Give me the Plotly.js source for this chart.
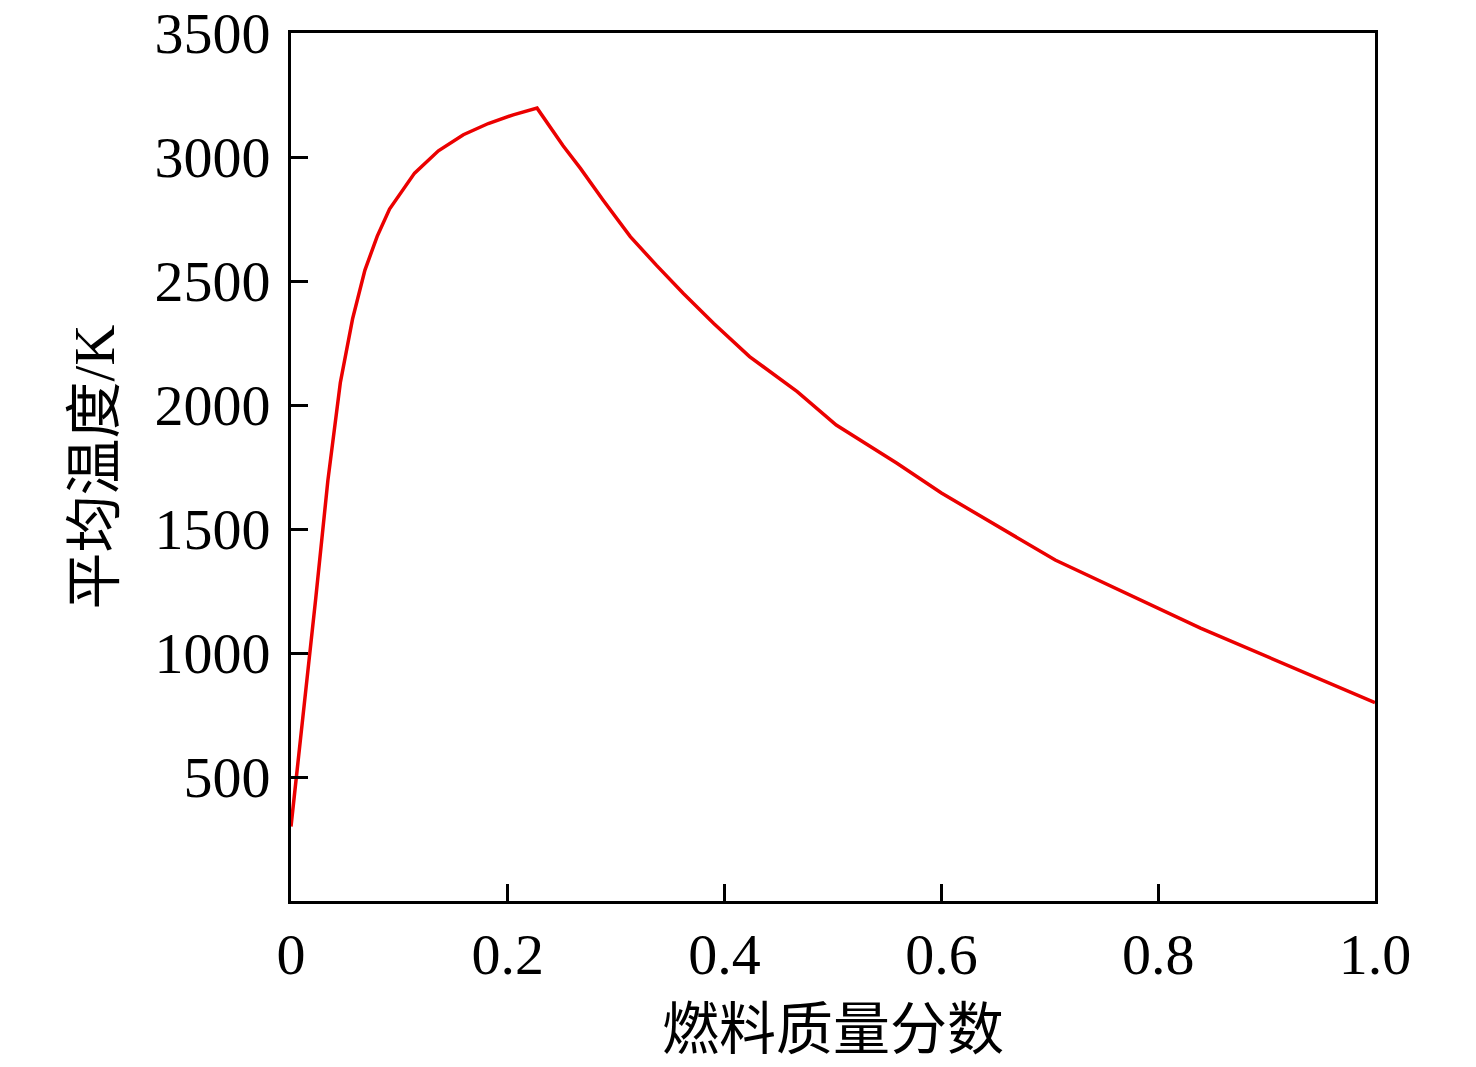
<!DOCTYPE html>
<html>
<head>
<meta charset="utf-8">
<script src="https://cdn.plot.ly/plotly-3.0.1.min.js"></script>
<style>
  html, body { margin: 0; padding: 0; background: #fff; }
  #chart { width: 1476px; height: 1067px; }
</style>
</head>
<body>
<div id="chart"></div>
<script>
// fuel mass fraction vs mean temperature
let fuelFraction = [0, 0.0114, 0.0227, 0.034, 0.0455, 0.0568, 0.0682, 0.0795, 0.0909,
    0.114, 0.136, 0.159, 0.182, 0.205, 0.227,
    0.251, 0.267, 0.288, 0.313, 0.337, 0.362, 0.390, 0.423, 0.467, 0.503,
    0.559, 0.600, 0.705, 0.839, 1.0];
let meanTemp = [300, 750, 1215, 1695, 2090, 2347, 2544, 2680, 2790,
    2935, 3025, 3090, 3135, 3170, 3197,
    3045, 2954, 2826, 2679, 2564, 2450, 2329, 2195, 2054, 1919,
    1765, 1645, 1375, 1100, 800];

let xTickVals = [0, 0.2, 0.4, 0.6, 0.8, 1.0];
let xTickText = ['0', '0.2', '0.4', '0.6', '0.8', '1.0'];
let yTickVals = [500, 1000, 1500, 2000, 2500, 3000, 3500];

let xTitle = '燃料质量分数';
let yTitle = '平均温度/K';

let serif = '"Liberation Serif", "Times New Roman", "Noto Sans CJK SC", serif';

let tempTrace = {
    x: fuelFraction,
    y: meanTemp,
    mode: 'lines',
    line: {color: 'rgb(235, 0, 0)', width: 3.5},
    hoverinfo: 'skip'
};

let layout = {
    width: 1476,
    height: 1067,
    margin: {l: 291, r: 101, t: 33, b: 166},
    paper_bgcolor: '#fff',
    plot_bgcolor: '#fff',
    showlegend: false,
    font: {family: serif, color: '#000', size: 58},
    xaxis: {
        range: [0, 1.0],
        tickvals: xTickVals,
        ticktext: xTickText,
        ticks: 'inside',
        ticklen: 17,
        tickwidth: 3,
        tickcolor: '#000',
        showline: true,
        linewidth: 3,
        linecolor: '#000',
        mirror: true,
        showgrid: false,
        zeroline: false,
        tickfont: {family: serif, size: 58},
        ticklabelstandoff: 0,
        title: {text: xTitle, font: {family: serif, size: 57}, standoff: 24}
    },
    yaxis: {
        range: [0, 3500],
        tickvals: yTickVals,
        ticks: 'inside',
        ticklen: 17,
        tickwidth: 3,
        tickcolor: '#000',
        showline: true,
        linewidth: 3,
        linecolor: '#000',
        mirror: true,
        showgrid: false,
        zeroline: false,
        tickfont: {family: serif, size: 58},
        ticklabelstandoff: 6,
        title: {text: yTitle, font: {family: serif, size: 57}, standoff: 22}
    }
};

Plotly.newPlot('chart', [tempTrace], layout, {staticPlot: true, displayModeBar: false});
</script>
</body>
</html>
